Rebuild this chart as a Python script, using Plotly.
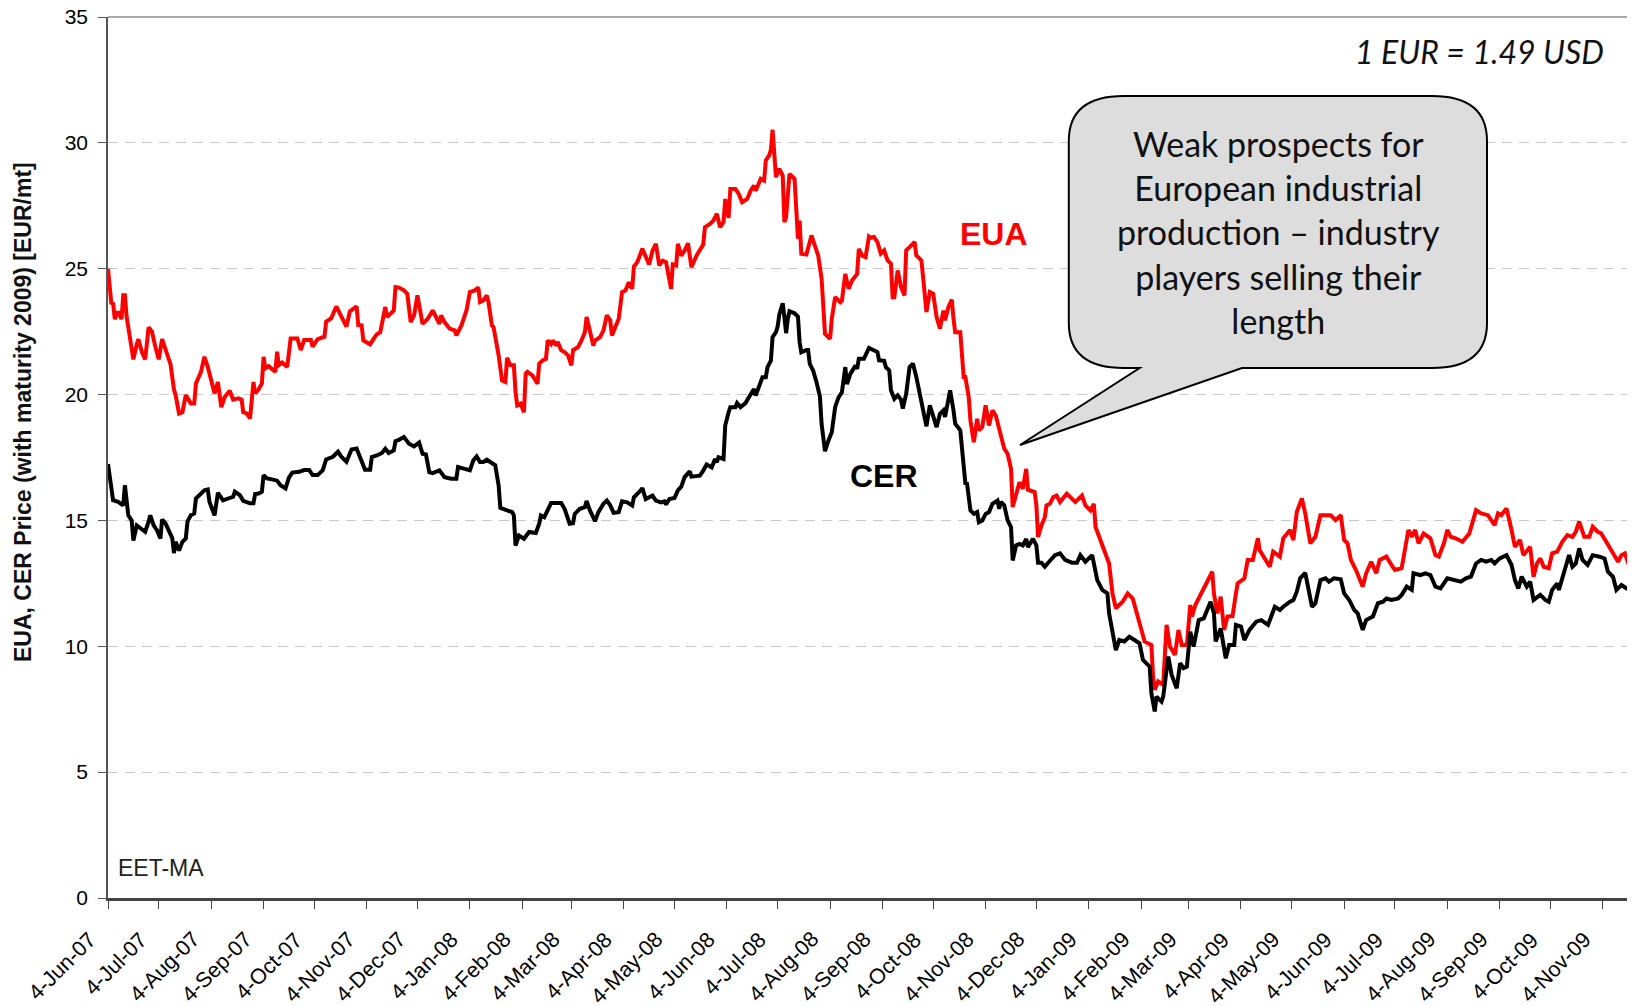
import plotly.graph_objects as go

# ---------------- data ----------------
eua_dates = [
    "2007-06-04", "2007-06-06", "2007-06-07", "2007-06-08", "2007-06-10", "2007-06-12", "2007-06-13", "2007-06-14", "2007-06-15", "2007-06-17",
    "2007-06-19", "2007-06-21", "2007-06-22", "2007-06-24", "2007-06-26", "2007-06-28", "2007-06-30", "2007-07-02", "2007-07-04", "2007-07-06",
    "2007-07-08", "2007-07-11", "2007-07-13", "2007-07-14", "2007-07-16", "2007-07-18", "2007-07-20", "2007-07-23", "2007-07-25", "2007-07-26",
    "2007-07-29", "2007-07-31", "2007-08-02", "2007-08-04", "2007-08-06", "2007-08-08", "2007-08-10", "2007-08-12", "2007-08-15", "2007-08-17",
    "2007-08-20", "2007-08-22", "2007-08-23", "2007-08-25", "2007-08-27", "2007-08-29", "2007-08-30", "2007-09-01", "2007-09-03", "2007-09-04",
    "2007-09-05", "2007-09-07", "2007-09-11", "2007-09-12", "2007-09-13", "2007-09-15", "2007-09-18", "2007-09-20", "2007-09-24", "2007-09-26",
    "2007-09-28", "2007-10-02", "2007-10-03", "2007-10-06", "2007-10-10", "2007-10-11", "2007-10-14", "2007-10-17", "2007-10-20", "2007-10-23",
    "2007-10-25", "2007-10-29", "2007-10-30", "2007-11-01", "2007-11-02", "2007-11-06", "2007-11-08", "2007-11-10", "2007-11-12", "2007-11-14",
    "2007-11-15", "2007-11-16", "2007-11-19", "2007-11-20", "2007-11-21", "2007-11-23", "2007-11-26", "2007-11-28", "2007-11-30", "2007-12-02",
    "2007-12-04", "2007-12-06", "2007-12-07", "2007-12-10", "2007-12-13", "2007-12-15", "2007-12-17", "2007-12-18", "2007-12-20", "2007-12-23",
    "2007-12-26", "2007-12-27", "2007-12-30", "2008-01-02", "2008-01-04", "2008-01-07", "2008-01-09", "2008-01-10", "2008-01-12", "2008-01-14",
    "2008-01-15", "2008-01-17", "2008-01-18", "2008-01-21", "2008-01-23", "2008-01-25", "2008-01-26", "2008-01-28", "2008-01-30", "2008-01-31",
    "2008-02-01", "2008-02-03", "2008-02-05", "2008-02-06", "2008-02-07", "2008-02-10", "2008-02-13", "2008-02-14", "2008-02-16", "2008-02-18",
    "2008-02-19", "2008-02-21", "2008-02-22", "2008-02-24", "2008-02-25", "2008-02-27", "2008-02-29", "2008-03-02", "2008-03-04", "2008-03-05",
    "2008-03-08", "2008-03-10", "2008-03-12", "2008-03-13", "2008-03-15", "2008-03-17", "2008-03-18", "2008-03-21", "2008-03-23", "2008-03-25",
    "2008-03-27", "2008-03-28", "2008-03-30", "2008-04-01", "2008-04-03", "2008-04-05", "2008-04-07", "2008-04-09", "2008-04-10", "2008-04-12",
    "2008-04-15", "2008-04-17", "2008-04-19", "2008-04-21", "2008-04-23", "2008-04-25", "2008-04-27", "2008-04-29", "2008-05-01", "2008-05-02",
    "2008-05-03", "2008-05-05", "2008-05-06", "2008-05-08", "2008-05-10", "2008-05-12", "2008-05-14", "2008-05-17", "2008-05-21", "2008-05-22",
    "2008-05-25", "2008-05-27", "2008-05-29", "2008-05-30", "2008-05-31", "2008-06-02", "2008-06-03", "2008-06-05", "2008-06-06", "2008-06-09",
    "2008-06-11", "2008-06-13", "2008-06-16", "2008-06-18", "2008-06-20", "2008-06-21", "2008-06-24", "2008-06-26", "2008-06-27", "2008-06-29",
    "2008-06-30", "2008-07-01", "2008-07-02", "2008-07-03", "2008-07-05", "2008-07-07", "2008-07-08", "2008-07-09", "2008-07-10", "2008-07-11",
    "2008-07-14", "2008-07-15", "2008-07-16", "2008-07-17", "2008-07-18", "2008-07-21", "2008-07-22", "2008-07-24", "2008-07-26", "2008-07-28",
    "2008-07-30", "2008-07-31", "2008-08-01", "2008-08-04", "2008-08-05", "2008-08-07", "2008-08-10", "2008-08-11", "2008-08-13", "2008-08-15",
    "2008-08-17", "2008-08-20", "2008-08-21", "2008-08-23", "2008-08-25", "2008-08-27", "2008-08-28", "2008-08-30", "2008-09-01", "2008-09-03",
    "2008-09-05", "2008-09-07", "2008-09-09", "2008-09-10", "2008-09-11", "2008-09-13", "2008-09-15", "2008-09-17", "2008-09-18", "2008-09-20",
    "2008-09-23", "2008-09-24", "2008-09-27", "2008-09-28", "2008-09-30", "2008-10-02", "2008-10-04", "2008-10-06", "2008-10-08", "2008-10-10",
    "2008-10-11", "2008-10-13", "2008-10-15", "2008-10-16", "2008-10-17", "2008-10-20", "2008-10-22", "2008-10-23", "2008-10-25", "2008-10-26",
    "2008-10-28", "2008-10-30", "2008-10-31", "2008-11-02", "2008-11-04", "2008-11-06", "2008-11-08", "2008-11-10", "2008-11-12", "2008-11-15",
    "2008-11-17", "2008-11-19", "2008-11-20", "2008-11-22", "2008-11-24", "2008-11-26", "2008-11-28", "2008-11-29", "2008-12-01", "2008-12-03",
    "2008-12-04", "2008-12-05", "2008-12-07", "2008-12-09", "2008-12-10", "2008-12-12", "2008-12-14", "2008-12-16", "2008-12-18", "2008-12-20",
    "2008-12-22", "2008-12-24", "2008-12-27", "2008-12-31", "2009-01-02", "2009-01-05", "2009-01-07", "2009-01-08", "2009-01-11", "2009-01-14",
    "2009-01-16", "2009-01-18", "2009-01-20", "2009-01-24", "2009-01-27", "2009-01-30", "2009-02-01", "2009-02-04", "2009-02-06", "2009-02-08",
    "2009-02-10", "2009-02-11", "2009-02-12", "2009-02-14", "2009-02-17", "2009-02-19", "2009-02-21", "2009-02-24", "2009-02-26", "2009-02-28",
    "2009-03-03", "2009-03-05", "2009-03-06", "2009-03-08", "2009-03-11", "2009-03-13", "2009-03-16", "2009-03-18", "2009-03-19", "2009-03-21",
    "2009-03-23", "2009-03-25", "2009-03-27", "2009-03-30", "2009-04-01", "2009-04-02", "2009-04-06", "2009-04-08", "2009-04-11", "2009-04-14",
    "2009-04-15", "2009-04-18", "2009-04-21", "2009-04-23", "2009-04-27", "2009-04-29", "2009-05-03", "2009-05-05", "2009-05-07", "2009-05-10",
    "2009-05-12", "2009-05-15", "2009-05-18", "2009-05-21", "2009-05-24", "2009-05-27", "2009-05-30", "2009-06-02", "2009-06-04", "2009-06-06",
    "2009-06-08", "2009-06-11", "2009-06-15", "2009-06-17", "2009-06-20", "2009-06-23", "2009-06-25", "2009-06-29", "2009-07-02", "2009-07-04",
    "2009-07-08", "2009-07-10", "2009-07-12", "2009-07-14", "2009-07-16", "2009-07-18", "2009-07-21", "2009-07-25", "2009-07-28", "2009-07-30",
    "2009-08-02", "2009-08-04", "2009-08-06", "2009-08-09", "2009-08-13", "2009-08-17", "2009-08-21", "2009-08-24", "2009-08-28", "2009-09-01",
    "2009-09-03", "2009-09-05", "2009-09-08", "2009-09-11", "2009-09-13", "2009-09-16", "2009-09-18", "2009-09-22", "2009-09-24", "2009-09-26",
    "2009-09-28", "2009-09-30", "2009-10-03", "2009-10-05", "2009-10-08", "2009-10-11", "2009-10-14", "2009-10-17", "2009-10-19", "2009-10-21",
    "2009-10-24", "2009-10-27", "2009-10-29", "2009-11-01", "2009-11-03", "2009-11-06", "2009-11-09", "2009-11-13", "2009-11-15", "2009-11-17",
    "2009-11-20", "2009-11-23",
]
eua_values = [
    25.0, 23.6, 23.65, 23.0, 23.3, 23.0, 23.95, 23.95, 23.1, 22.3,
    21.4, 22.0, 22.2, 21.7, 21.4, 22.67, 22.5, 21.9, 21.4, 22.2,
    21.8, 21.2, 20.2, 19.98, 19.25, 19.3, 19.98, 19.65, 19.65, 20.44,
    20.9, 21.5, 21.1, 20.6, 20.05, 20.5, 19.5, 19.9, 20.15, 19.8,
    19.85, 19.8, 19.3, 19.25, 19.05, 20.5, 20.05, 20.2, 20.44, 21.5,
    21.04, 21.13, 20.9, 21.7, 21.17, 21.27, 21.1, 22.23, 22.23, 21.77,
    22.17, 22.17, 21.9, 22.2, 22.3, 22.9, 23.03, 23.5, 23.1, 22.7,
    23.3, 23.5, 22.76, 22.75, 22.15, 22.0, 22.2, 22.4, 22.48, 23.08,
    23.48, 23.08, 23.28, 23.34, 24.27, 24.25, 24.14, 24.0, 22.88, 23.15,
    23.94, 23.28, 22.81, 23.0, 23.34, 23.08, 22.81, 23.15, 22.88, 22.62,
    22.55, 22.35, 22.75, 23.34, 24.07, 24.14, 24.25, 23.68, 23.74, 23.94,
    23.68, 22.75, 22.68, 21.56, 20.56, 20.5, 21.46, 21.16, 21.16, 20.1,
    19.57, 19.64, 19.3, 20.83, 20.9, 20.76, 20.43, 21.23, 21.36, 21.42,
    22.15, 22.0, 22.15, 21.95, 22.09, 21.76, 21.69, 21.56, 21.16, 21.76,
    21.89, 22.15, 22.48, 23.08, 22.55, 21.95, 22.15, 22.28, 22.55, 23.15,
    22.95, 22.35, 22.68, 23.0, 24.07, 24.13, 24.46, 24.2, 25.09, 25.26,
    25.79, 25.46, 25.17, 25.72, 25.99, 25.13, 25.32, 25.26, 24.6, 24.2,
    25.17, 25.13, 25.99, 25.52, 25.72, 26.01, 25.06, 25.52, 25.96, 26.65,
    26.78, 26.91, 27.18, 26.85, 26.65, 26.85, 27.77, 27.02, 28.17, 28.17,
    27.97, 27.64, 27.77, 28.1, 28.3, 28.1, 28.57, 28.5, 29.3, 29.5,
    29.72, 30.52, 29.7, 28.64, 28.97, 28.7, 26.85, 27.05, 27.91, 28.77,
    28.57, 27.31, 26.19, 26.91, 25.59, 25.56, 25.85, 26.32, 25.92, 25.52,
    24.6, 23.4, 22.41, 22.21, 23.0, 23.87, 23.67, 23.73, 24.79, 24.2,
    24.53, 24.79, 25.79, 25.52, 25.46, 26.28, 26.23, 26.26, 26.06, 25.6,
    25.73, 25.33, 25.2, 23.87, 23.87, 24.93, 24.27, 23.94, 25.73, 25.86,
    26.06, 25.53, 25.33, 24.67, 23.28, 24.07, 24.0, 23.08, 22.62, 23.34,
    22.95, 23.48, 23.77, 23.01, 22.48, 22.48, 20.7, 20.7, 19.9, 18.97,
    18.11, 19.04, 18.58, 18.71, 19.57, 18.77, 19.37, 19.17, 18.58, 17.85,
    17.65, 17.05, 15.53, 15.99, 16.52, 16.26, 17.05, 16.22, 16.19, 16.13,
    15.6, 14.34, 14.8, 15.13, 15.6, 15.66, 15.93, 15.99, 15.73, 15.93,
    16.06, 15.93, 15.73, 15.99, 15.6, 15.4, 15.66, 14.74, 14.21, 13.61,
    13.29, 12.1, 11.51, 11.77, 12.1, 11.9, 11.44, 10.65, 10.19, 10.12,
    10.05, 8.8, 8.27, 8.6, 8.47, 10.85, 9.99, 9.66, 10.65, 10.05,
    10.05, 11.64, 11.18, 11.64, 12.04, 12.3, 12.63, 12.96, 12.1, 11.31,
    11.97, 10.65, 11.18, 11.2, 12.1, 12.5, 12.7, 13.43, 13.43, 14.29,
    13.82, 13.49, 13.16, 13.76, 13.56, 14.29, 14.62, 14.22, 15.34, 15.87,
    15.28, 14.09, 14.35, 15.21, 15.21, 15.21, 15.01, 15.21, 14.22, 14.09,
    13.43, 13.03, 12.37, 12.9, 13.36, 12.9, 13.43, 13.56, 13.23, 13.03,
    13.1, 13.82, 14.62, 14.35, 14.62, 14.09, 14.48, 14.29, 13.62, 13.56,
    14.09, 14.62, 14.35, 14.29, 14.15, 14.48, 15.41, 15.28, 15.21, 14.81,
    15.28, 15.21, 15.48, 14.62, 13.95, 14.22, 13.62, 13.95, 12.76, 13.29,
    13.49, 13.16, 13.1, 13.69, 13.76, 14.15, 14.42, 14.35, 14.55, 14.95,
    14.35, 14.35, 14.75, 14.55, 14.48, 14.15, 13.82, 13.36, 13.62, 13.69,
    13.1, 13.03,
]

cer_dates = [
    "2007-06-04", "2007-06-06", "2007-06-07", "2007-06-10", "2007-06-13", "2007-06-14", "2007-06-15", "2007-06-16", "2007-06-18", "2007-06-19",
    "2007-06-21", "2007-06-23", "2007-06-26", "2007-06-28", "2007-06-29", "2007-07-01", "2007-07-03", "2007-07-05", "2007-07-06", "2007-07-08",
    "2007-07-10", "2007-07-12", "2007-07-13", "2007-07-14", "2007-07-16", "2007-07-18", "2007-07-20", "2007-07-21", "2007-07-23", "2007-07-25",
    "2007-07-26", "2007-07-29", "2007-07-31", "2007-08-02", "2007-08-03", "2007-08-06", "2007-08-07", "2007-08-08", "2007-08-11", "2007-08-14",
    "2007-08-17", "2007-08-18", "2007-08-21", "2007-08-23", "2007-08-27", "2007-08-29", "2007-08-30", "2007-09-01", "2007-09-03", "2007-09-04",
    "2007-09-06", "2007-09-09", "2007-09-12", "2007-09-14", "2007-09-17", "2007-09-19", "2007-09-21", "2007-09-25", "2007-09-28", "2007-10-01",
    "2007-10-03", "2007-10-06", "2007-10-09", "2007-10-11", "2007-10-15", "2007-10-18", "2007-10-20", "2007-10-23", "2007-10-26", "2007-10-29",
    "2007-11-01", "2007-11-03", "2007-11-06", "2007-11-07", "2007-11-10", "2007-11-13", "2007-11-15", "2007-11-17", "2007-11-20", "2007-11-21",
    "2007-11-23", "2007-11-26", "2007-11-29", "2007-12-02", "2007-12-05", "2007-12-07", "2007-12-09", "2007-12-11", "2007-12-13", "2007-12-17",
    "2007-12-20", "2007-12-24", "2007-12-27", "2007-12-28", "2008-01-01", "2008-01-04", "2008-01-06", "2008-01-08", "2008-01-10", "2008-01-12",
    "2008-01-14", "2008-01-17", "2008-01-19", "2008-01-21", "2008-01-22", "2008-01-26", "2008-01-29", "2008-01-30", "2008-01-31", "2008-02-02",
    "2008-02-03", "2008-02-05", "2008-02-08", "2008-02-12", "2008-02-14", "2008-02-15", "2008-02-17", "2008-02-19", "2008-02-21", "2008-02-27",
    "2008-02-29", "2008-03-03", "2008-03-05", "2008-03-06", "2008-03-09", "2008-03-12", "2008-03-13", "2008-03-15", "2008-03-18", "2008-03-20",
    "2008-03-23", "2008-03-25", "2008-03-27", "2008-03-29", "2008-04-01", "2008-04-03", "2008-04-06", "2008-04-09", "2008-04-10", "2008-04-13",
    "2008-04-15", "2008-04-17", "2008-04-21", "2008-04-23", "2008-04-26", "2008-04-28", "2008-04-29", "2008-05-01", "2008-05-04", "2008-05-06",
    "2008-05-08", "2008-05-10", "2008-05-13", "2008-05-14", "2008-05-19", "2008-05-21", "2008-05-23", "2008-05-26", "2008-05-28", "2008-05-29",
    "2008-05-30", "2008-06-02", "2008-06-03", "2008-06-05", "2008-06-06", "2008-06-09", "2008-06-10", "2008-06-12", "2008-06-15", "2008-06-17",
    "2008-06-20", "2008-06-21", "2008-06-23", "2008-06-25", "2008-06-27", "2008-06-28", "2008-06-30", "2008-07-01", "2008-07-03", "2008-07-04",
    "2008-07-05", "2008-07-07", "2008-07-08", "2008-07-09", "2008-07-10", "2008-07-11", "2008-07-14", "2008-07-16", "2008-07-17", "2008-07-18",
    "2008-07-21", "2008-07-22", "2008-07-23", "2008-07-25", "2008-07-27", "2008-07-29", "2008-07-30", "2008-07-31", "2008-08-01", "2008-08-03",
    "2008-08-05", "2008-08-07", "2008-08-09", "2008-08-11", "2008-08-13", "2008-08-14", "2008-08-16", "2008-08-19", "2008-08-20", "2008-08-21",
    "2008-08-24", "2008-08-27", "2008-08-29", "2008-09-01", "2008-09-02", "2008-09-05", "2008-09-06", "2008-09-08", "2008-09-09", "2008-09-11",
    "2008-09-13", "2008-09-15", "2008-09-16", "2008-09-18", "2008-09-20", "2008-09-22", "2008-09-24", "2008-09-26", "2008-09-28", "2008-09-30",
    "2008-10-02", "2008-10-04", "2008-10-06", "2008-10-08", "2008-10-10", "2008-10-11", "2008-10-13", "2008-10-14", "2008-10-16", "2008-10-17",
    "2008-10-20", "2008-10-22", "2008-10-23", "2008-10-24", "2008-10-26", "2008-10-28", "2008-10-30", "2008-10-31", "2008-11-02", "2008-11-04",
    "2008-11-06", "2008-11-08", "2008-11-11", "2008-11-12", "2008-11-13", "2008-11-15", "2008-11-17", "2008-11-19", "2008-11-20", "2008-11-22",
    "2008-11-24", "2008-11-26", "2008-11-28", "2008-11-29", "2008-12-02", "2008-12-04", "2008-12-05", "2008-12-07", "2008-12-09", "2008-12-11",
    "2008-12-15", "2008-12-18", "2008-12-21", "2008-12-25", "2008-12-28", "2008-12-30", "2009-01-02", "2009-01-06", "2009-01-09", "2009-01-12",
    "2009-01-15", "2009-01-16", "2009-01-18", "2009-01-20", "2009-01-22", "2009-01-25", "2009-01-28", "2009-01-31", "2009-02-03", "2009-02-05",
    "2009-02-08", "2009-02-09", "2009-02-10", "2009-02-12", "2009-02-13", "2009-02-16", "2009-02-17", "2009-02-19", "2009-02-20", "2009-02-22",
    "2009-02-25", "2009-02-27", "2009-03-01", "2009-03-03", "2009-03-05", "2009-03-07", "2009-03-10", "2009-03-13", "2009-03-15", "2009-03-17",
    "2009-03-19", "2009-03-20", "2009-03-23", "2009-03-26", "2009-03-28", "2009-03-31", "2009-04-01", "2009-04-04", "2009-04-06", "2009-04-09",
    "2009-04-13", "2009-04-16", "2009-04-20", "2009-04-22", "2009-04-24", "2009-04-27", "2009-04-29", "2009-05-03", "2009-05-05", "2009-05-07",
    "2009-05-09", "2009-05-12", "2009-05-14", "2009-05-16", "2009-05-18", "2009-05-21", "2009-05-24", "2009-05-26", "2009-05-29", "2009-06-02",
    "2009-06-04", "2009-06-07", "2009-06-10", "2009-06-12", "2009-06-15", "2009-06-17", "2009-06-19", "2009-06-21", "2009-06-24", "2009-06-27",
    "2009-06-29", "2009-07-02", "2009-07-06", "2009-07-08", "2009-07-11", "2009-07-14", "2009-07-15", "2009-07-19", "2009-07-22", "2009-07-25",
    "2009-07-28", "2009-07-31", "2009-08-04", "2009-08-08", "2009-08-12", "2009-08-15", "2009-08-18", "2009-08-21", "2009-08-24", "2009-08-27",
    "2009-08-30", "2009-09-01", "2009-09-04", "2009-09-08", "2009-09-11", "2009-09-13", "2009-09-15", "2009-09-17", "2009-09-20", "2009-09-22",
    "2009-09-24", "2009-09-28", "2009-10-01", "2009-10-03", "2009-10-05", "2009-10-08", "2009-10-09", "2009-10-13", "2009-10-15", "2009-10-17",
    "2009-10-19", "2009-10-21", "2009-10-23", "2009-10-26", "2009-10-29", "2009-11-02", "2009-11-05", "2009-11-07", "2009-11-10", "2009-11-12",
    "2009-11-15", "2009-11-18", "2009-11-20", "2009-11-23",
]
cer_values = [
    17.24, 16.27, 15.8, 15.74, 15.6, 16.4, 15.55, 15.2, 15.0, 14.2,
    14.8, 14.7, 14.55, 14.95, 15.2, 14.8, 14.6, 14.28, 15.04, 14.88,
    14.6, 14.3, 13.7, 14.15, 13.8, 14.15, 14.28, 14.95, 15.21, 15.28,
    15.87, 16.07, 16.2, 16.23, 15.74, 15.2, 15.83, 16.1, 15.8, 15.87,
    15.94, 16.14, 16.0, 15.78, 15.68, 15.68, 16.05, 16.07, 16.14, 16.8,
    16.67, 16.63, 16.58, 16.4, 16.27, 16.7, 16.9, 16.93, 17.0, 17.0,
    16.8, 16.8, 17.0, 17.42, 17.53, 17.73, 17.53, 17.33, 17.82, 17.86,
    17.38, 17.01, 17.01, 17.52, 17.58, 17.68, 17.85, 17.68, 17.78, 18.15,
    18.2, 18.31, 18.05, 17.94, 18.09, 17.65, 17.62, 16.92, 16.88, 16.99,
    16.72, 16.66, 16.66, 17.12, 17.05, 16.99, 17.38, 17.54, 17.32, 17.32,
    17.41, 17.28, 17.19, 16.39, 15.5, 15.4, 15.33, 15.2, 14.0, 14.4,
    14.34, 14.27, 14.54, 14.5, 14.87, 15.2, 15.13, 15.46, 15.69, 15.69,
    15.46, 14.87, 14.89, 15.26, 15.46, 15.53, 15.77, 15.4, 14.97, 15.33,
    15.66, 15.79, 15.6, 15.3, 15.33, 15.76, 15.72, 15.59, 15.92, 16.12,
    16.28, 15.85, 15.99, 15.79, 15.72, 15.76, 15.63, 15.85, 15.89, 16.19,
    16.34, 16.72, 16.95, 16.74, 16.78, 16.98, 17.22, 17.11, 17.44, 17.31,
    17.51, 17.44, 18.77, 19.3, 19.5, 19.5, 19.66, 19.5, 19.66, 19.89,
    20.22, 19.96, 20.36, 20.69, 20.69, 21.09, 21.35, 22.28, 22.48, 22.7,
    23.18, 23.63, 23.07, 22.44, 23.0, 23.31, 23.23, 23.1, 22.08, 21.68,
    21.77, 21.77, 21.22, 20.95, 20.49, 19.92, 18.83, 18.37, 17.75, 18.17,
    18.5, 19.5, 19.89, 20.09, 21.09, 20.42, 20.82, 21.15, 21.02, 21.42,
    21.42, 21.85, 21.78, 21.69, 21.36, 21.34, 21.09, 20.96, 20.17, 19.83,
    19.97, 19.79, 19.44, 20.03, 21.09, 21.23, 20.7, 20.03, 19.5, 18.74,
    19.57, 19.17, 18.71, 19.24, 19.37, 19.11, 19.77, 20.17, 19.37, 18.84,
    18.58, 17.12, 16.48, 16.46, 15.4, 15.26, 15.33, 14.93, 15.0, 15.26,
    15.33, 15.66, 15.79, 15.46, 15.73, 15.6, 15.0, 14.74, 13.41, 14.01,
    14.07, 14.01, 14.27, 13.94, 14.27, 14.01, 13.32, 13.32, 13.16, 13.32,
    13.62, 13.69, 13.43, 13.32, 13.32, 13.62, 13.36, 13.62, 12.63, 12.24,
    12.1, 11.31, 10.52, 9.85, 10.25, 10.19, 10.38, 10.25, 10.12, 9.46,
    9.26, 9.19, 8.13, 7.41, 8.0, 7.8, 8.0, 8.92, 9.59, 8.86,
    8.33, 9.33, 9.13, 9.19, 10.58, 9.99, 11.04, 11.11, 11.44, 11.77,
    11.31, 10.19, 10.71, 9.52, 10.05, 10.05, 10.85, 10.78, 10.25, 10.65,
    10.98, 11.04, 10.85, 11.24, 11.57, 11.44, 11.57, 11.77, 11.84, 12.17,
    12.7, 12.92, 12.24, 11.57, 11.71, 12.63, 12.7, 12.57, 12.7, 12.66,
    12.1, 11.84, 11.44, 11.31, 10.65, 11.04, 11.11, 11.18, 11.71, 11.77,
    11.9, 11.84, 11.9, 12.04, 12.37, 12.24, 12.9, 12.83, 12.9, 12.83,
    12.37, 12.3, 12.7, 12.63, 12.57, 12.7, 12.77, 13.29, 13.43, 13.36,
    13.43, 13.29, 13.49, 13.62, 13.23, 12.63, 12.3, 12.77, 12.37, 12.57,
    11.84, 12.04, 11.84, 11.77, 12.24, 12.5, 12.24, 13.16, 13.62, 13.16,
    13.29, 13.89, 13.43, 13.23, 13.62, 13.56, 13.49, 12.96, 12.76, 12.24,
    12.43, 12.3, 12.24, 12.17,
]

tick_dates = [
    "2007-06-04", "2007-07-04", "2007-08-04", "2007-09-04", "2007-10-04", "2007-11-04", "2007-12-04",
    "2008-01-04", "2008-02-04", "2008-03-04", "2008-04-04", "2008-05-04", "2008-06-04", "2008-07-04",
    "2008-08-04", "2008-09-04", "2008-10-04", "2008-11-04", "2008-12-04", "2009-01-04", "2009-02-04",
    "2009-03-04", "2009-04-04", "2009-05-04", "2009-06-04", "2009-07-04", "2009-08-04", "2009-09-04",
    "2009-10-04", "2009-11-04",
]
tick_labels = [
    "4-Jun-07", "4-Jul-07", "4-Aug-07", "4-Sep-07", "4-Oct-07", "4-Nov-07", "4-Dec-07",
    "4-Jan-08", "4-Feb-08", "4-Mar-08", "4-Apr-08", "4-May-08", "4-Jun-08", "4-Jul-08",
    "4-Aug-08", "4-Sep-08", "4-Oct-08", "4-Nov-08", "4-Dec-08", "4-Jan-09", "4-Feb-09",
    "4-Mar-09", "4-Apr-09", "4-May-09", "4-Jun-09", "4-Jul-09", "4-Aug-09", "4-Sep-09",
    "4-Oct-09", "4-Nov-09",
]
y_ticks = [0, 5, 10, 15, 20, 25, 30, 35]

assert len(eua_dates) == len(eua_values), (len(eua_dates), len(eua_values))
assert len(cer_dates) == len(cer_values), (len(cer_dates), len(cer_values))

# ---------------- layout helpers ----------------
# The page body has an 8px default margin; the figure is sized so that the
# page (1635x1006) is filled exactly.
BODY = 8
PAGE_W, PAGE_H = 1635, 1006
W, H = PAGE_W - BODY, PAGE_H - BODY
# plot area in page pixels
PL, PR, PT, PB = 108, 1635, 17, 898


def px(x):
    return (x - PL) / (PR - PL)


def py(y):
    return (PB - y) / (PB - PT)


AX_FONT = "Liberation Sans, Arial, sans-serif"
HUM_FONT = "Lato, Open Sans, sans-serif"

fig = go.Figure()
fig.add_trace(go.Scatter(x=eua_dates, y=eua_values, mode="lines", name="EUA",
                         line=dict(color="#FF0000", width=4), showlegend=False))
fig.add_trace(go.Scatter(x=cer_dates, y=cer_values, mode="lines", name="CER",
                         line=dict(color="#000000", width=4), showlegend=False))

# callout bubble (page pixels)
L, R, T, B = 1068.8, 1487, 96, 368
rx, ry = 55, 45
tail_l, tail_r, tip = 1139.6, 1242, (1020, 445)


def P(x, y):
    return f"{px(x):.5f},{py(y):.5f}"


path = (
    f"M {P(L + rx, T)} L {P(R - rx, T)} Q {P(R, T)} {P(R, T + ry)} "
    f"L {P(R, B - ry)} Q {P(R, B)} {P(R - rx, B)} L {P(tail_r, B)} "
    f"L {P(*tip)} L {P(tail_l, B)} L {P(L + rx, B)} Q {P(L, B)} {P(L, B - ry)} "
    f"L {P(L, T + ry)} Q {P(L, T)} {P(L + rx, T)} Z"
)

shapes = [
    dict(type="path", xref="paper", yref="paper", path=path,
         fillcolor="#DDDDDD", line=dict(color="#000000", width=2), layer="above"),
    dict(type="line", xref="paper", yref="paper", x0=0, x1=1, y0=1, y1=1,
         line=dict(color="#8C8C8C", width=1.5)),
]

annotations = [
    dict(text="<b>EUA, CER Price (with maturity 2009) [EUR/mt]</b>", x=px(23), y=py(412),
         textangle=-90, font=dict(family=AX_FONT, size=23, color="#111111")),
    dict(text="EET-MA", x=px(116), y=py(868), xanchor="left",
         font=dict(family=AX_FONT, size=23, color="#222222")),
    dict(text="<b>EUA</b>", x=px(994), y=py(234),
         font=dict(family=AX_FONT, size=32, color="#FF0000")),
    dict(text="<b>CER</b>", x=px(884), y=py(476),
         font=dict(family=AX_FONT, size=32, color="#000000")),
    dict(text="<i>1 EUR = 1.49 USD</i>", x=px(1606), y=py(52), xanchor="right",
         font=dict(family=HUM_FONT, size=32, color="#111111")),
    dict(text="Weak prospects for<br>European industrial<br>production \u2013 industry<br>players selling their<br>length",
         x=px(1278), y=py(232), align="center",
         font=dict(family=HUM_FONT, size=34, color="#111111")),
]
for a in annotations:
    a.setdefault("xanchor", "center")
    a.update(xref="paper", yref="paper", showarrow=False, yanchor="middle")

# rotated date labels under the axis
for d, lab in zip(tick_dates, tick_labels):
    annotations.append(dict(
        text=lab, x=d, xref="x", y=py(925), yref="paper",
        xanchor="right", yanchor="top", textangle=-45, xshift=-4,
        showarrow=False, font=dict(family=AX_FONT, size=21.5, color="#000000"),
    ))

fig.update_layout(
    width=W, height=H,
    margin=dict(l=PL - BODY, r=PAGE_W - PR, t=PT - BODY, b=PAGE_H - PB, pad=0, autoexpand=False),
    paper_bgcolor="white", plot_bgcolor="white",
    shapes=shapes, annotations=annotations,
    font=dict(family=AX_FONT, size=20, color="#000000"),
    xaxis=dict(
        type="date", range=["2007-06-04", "2009-11-23"], automargin=False,
        tickmode="array", tickvals=tick_dates, showticklabels=False,
        ticks="outside", ticklen=8, tickwidth=1.2, tickcolor="#444444",
        showgrid=False, zeroline=False,
        showline=True, linecolor="#444444", linewidth=2.5,
    ),
    yaxis=dict(
        range=[0, 35], tickmode="array", tickvals=y_ticks, automargin=False,
        ticks="outside", ticklen=8, tickwidth=1.2, tickcolor="#555555",
        showgrid=True, gridcolor="#C8C8C8", griddash="10px,7px", gridwidth=1,
        zeroline=False, showline=True, linecolor="#555555", linewidth=1.5,
        tickfont=dict(family=AX_FONT, size=21, color="#000000"),
        ticklabelstandoff=6, ticklabeloverflow="allow",
    ),
)

fig.write_html("out.html")
